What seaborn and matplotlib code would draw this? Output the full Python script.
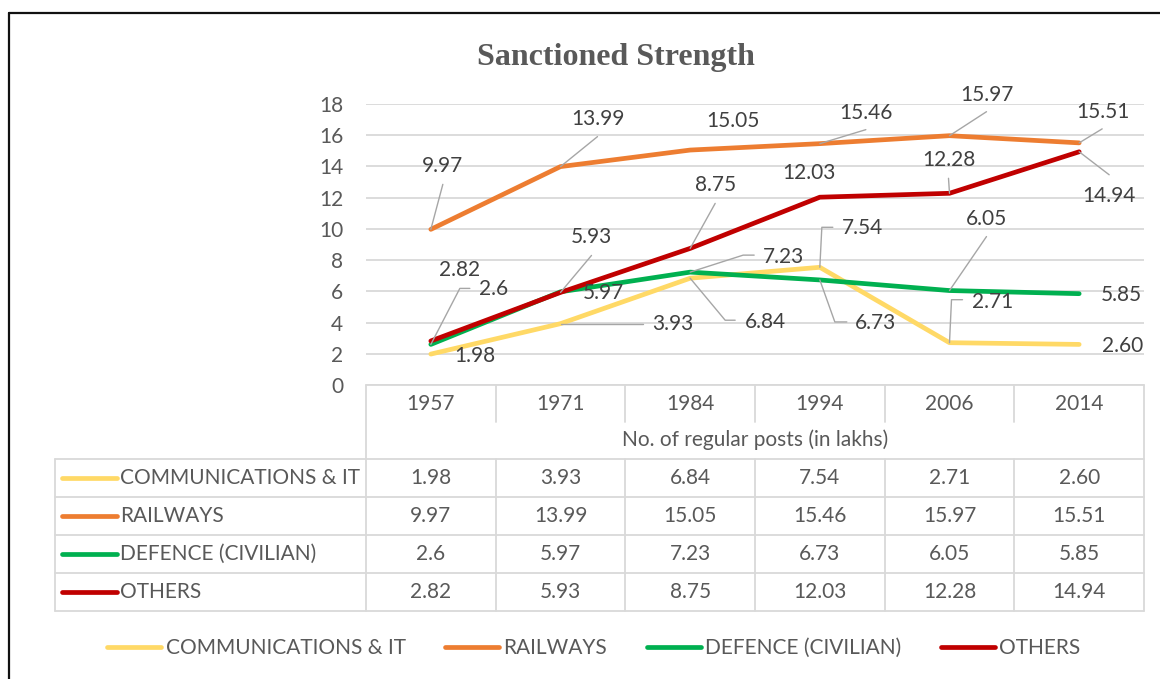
import numpy as np
import pandas as pd
import matplotlib
matplotlib.use("Agg")
import matplotlib.pyplot as plt
import seaborn as sns
from matplotlib.lines import Line2D
from matplotlib.transforms import IdentityTransform

# ---------------- data ----------------
years = ["1957", "1971", "1984", "1994", "2006", "2014"]
series_names = ["COMMUNICATIONS & IT", "RAILWAYS", "DEFENCE (CIVILIAN)", "OTHERS"]
comm = [1.98, 3.93, 6.84, 7.54, 2.71, 2.60]
rail = [9.97, 13.99, 15.05, 15.46, 15.97, 15.51]
defence = [2.6, 5.97, 7.23, 6.73, 6.05, 5.85]
others = [2.82, 5.93, 8.75, 12.03, 12.28, 14.94]
comm_labels = ["1.98", "3.93", "6.84", "7.54", "2.71", "2.60"]
rail_labels = ["9.97", "13.99", "15.05", "15.46", "15.97", "15.51"]
def_labels = ["2.6", "5.97", "7.23", "6.73", "6.05", "5.85"]
oth_labels = ["2.82", "5.93", "8.75", "12.03", "12.28", "14.94"]
yticks = [0, 2, 4, 6, 8, 10, 12, 14, 16, 18]
title = "Sanctioned Strength"
axis_title = "No. of regular posts (in lakhs)"

values = [comm, rail, defence, others]
labels = [comm_labels, rail_labels, def_labels, oth_labels]
colors = ["#FFD966", "#ED7D31", "#00B050", "#C00000"]

# label offsets (pixels, y down) and leader polylines
label_off = [
    [(44, 2), (112, 0), (75, 44), (43, -39), (43, -41), (43, 2)],
    [(12, -63), (37, -48), (43, -29), (46, -31), (37, -41), (24, -31)],
    [(63, -55), (43, 1), (93, -15), (56, 43), (37, -72), (42, 1)],
    [(29, -71), (31, -55), (25, -63), (-11, -24), (-1, -33), (30, 44)],
]
leaders = {
    (0, 1): [(0, 0), (82, 0)],
    (0, 2): [(0, 0), (35, 42), (45, 42)],
    (0, 3): [(0, 0), (2, -40), (13, -40)],
    (0, 4): [(0, 0), (2, -43), (13, -43)],
    (1, 0): [(0, 0), (12, -45)],
    (1, 1): [(0, 0), (37, -30)],
    (1, 3): [(0, 0), (46, -14)],
    (1, 4): [(0, 0), (37, -24)],
    (1, 5): [(0, 0), (23, -14)],
    (2, 0): [(0, 0), (29, -56), (39, -56)],
    (2, 2): [(0, 0), (53, -17), (64, -17)],
    (2, 3): [(0, 0), (15, 42), (27, 42)],
    (2, 4): [(0, 0), (37, -54)],
    (3, 1): [(0, 0), (31, -37)],
    (3, 2): [(0, 0), (25, -45)],
    (3, 4): [(0, 0), (-1, -15)],
    (3, 5): [(0, 0), (30, 23)],
}

W, H = 1160, 679
TXT = "#595959"
LBL = "#404040"
GRID = "#D9D9D9"
FONT = ["Lato", "DejaVu Sans"]
FS = 15

sns.set_theme(style="white")
plt.rcParams["font.family"] = FONT

df = pd.DataFrame(
    [(i, v, s) for s, vals in zip(series_names, values) for i, v in enumerate(vals)],
    columns=["idx", "value", "series"],
)

fig = plt.figure(figsize=(W / 100, H / 100), dpi=100)
fig.patch.set_facecolor("white")


def fx(x):
    return x / W


def fy(y):
    return 1 - y / H


ax = fig.add_axes([fx(366), fy(385), 778 / W, 281 / H])
sns.lineplot(
    data=df, x="idx", y="value", hue="series", hue_order=series_names,
    palette=colors, linewidth=3.4, ax=ax, legend=False, sort=False,
)
for ln in ax.get_lines():
    ln.set_solid_capstyle("round")
    ln.set_solid_joinstyle("round")
ax.set_xlim(-0.5, 5.5)
ax.set_ylim(0, 18)
ax.set_yticks(yticks)
ax.set_yticklabels([str(t) for t in yticks], color=TXT, fontsize=FS)
ax.set_xticks([])
ax.set_xlabel("")
ax.set_ylabel("")
ax.tick_params(axis="y", length=0, pad=16.5)
for s in ax.spines.values():
    s.set_visible(False)
ax.yaxis.grid(True, color=GRID, linewidth=1.3)
ax.set_axisbelow(True)
ax.set_facecolor("white")

# data labels + leaders
for si in range(4):
    for i in range(len(years)):
        v = values[si][i]
        dx, dy = label_off[si][i]
        ax.annotate(labels[si][i], xy=(i, v), xytext=(dx * 0.72, -dy * 0.72),
                    textcoords="offset points", ha="center", va="center",
                    fontsize=FS, color=LBL, annotation_clip=False)
        if (si, i) in leaders:
            px, py = ax.transData.transform((i, v))
            pts = leaders[(si, i)]
            xs = [px + a for a, b in pts]
            ys = [py - b for a, b in pts]
            ax.add_line(Line2D(xs, ys, transform=IdentityTransform(),
                               color="#A6A6A6", linewidth=1.0, zorder=4, clip_on=False))

# ---------------- data table ----------------
def fline(x0, y0, x1, y1, **kw):
    fig.add_artist(Line2D([fx(x0), fx(x1)], [fy(y0), fy(y1)], transform=fig.transFigure,
                          color=GRID, linewidth=1.3, **kw))


def xpix(xd):
    return ax.transData.transform((xd, 0))[0]


bounds = [xpix(k - 0.5) for k in range(len(years) + 1)]
centers = [xpix(k) for k in range(len(years))]
left_edge, right_edge = bounds[0], bounds[-1]
tbl_left = 55
top, hdr_bot, title_bot = 385, 422, 459
row_h = 38
rows_y = [title_bot + row_h * r for r in range(len(series_names) + 1)]

fline(left_edge, top, right_edge, top)
for k, bx in enumerate(bounds):
    if k in (0, len(bounds) - 1):
        fline(bx, top, bx, rows_y[-1])
    else:
        fline(bx, top, bx, hdr_bot)
        fline(bx, title_bot, bx, rows_y[-1])
for yy in rows_y:
    fline(tbl_left, yy, right_edge, yy)
fline(tbl_left, title_bot, tbl_left, rows_y[-1])

for c, yr in zip(centers, years):
    fig.text(fx(c), fy(404), yr, ha="center", va="center", fontsize=FS, color=TXT)
fig.text(fx((left_edge + right_edge) / 2), fy(440), axis_title, ha="center", va="center",
         fontsize=FS, color=TXT)

for r, (name, vals_l, col) in enumerate(zip(series_names, labels, colors)):
    yc = (rows_y[r] + rows_y[r + 1]) / 2
    fig.add_artist(Line2D([fx(62), fx(117)], [fy(yc), fy(yc)], transform=fig.transFigure,
                          color=col, linewidth=3.4, solid_capstyle="round"))
    fig.text(fx(120), fy(yc), name, ha="left", va="center", fontsize=FS, color=TXT)
    for c, t in zip(centers, vals_l):
        fig.text(fx(c), fy(yc), t, ha="center", va="center", fontsize=FS, color=TXT)

# ---------------- legend ----------------
handles = [Line2D([0], [0], color=c, linewidth=3.4, solid_capstyle="round") for c in colors]
leg = fig.legend(handles, series_names, loc="center", bbox_to_anchor=(fx(594), fy(648)),
                 ncol=4, frameon=False, fontsize=FS, handlelength=2.6, handletextpad=0.2,
                 columnspacing=1.9, labelcolor=TXT)

# ---------------- title + frame ----------------
fig.text(fx(616), fy(58), title, ha="center", va="center", fontsize=23,
         fontweight="bold", color=TXT, family=["Liberation Serif", "DejaVu Serif"])
fig.add_artist(Line2D([fx(9), fx(1160)], [fy(13), fy(13)], transform=fig.transFigure,
                      color="#111111", linewidth=1.6))
fig.add_artist(Line2D([fx(9), fx(9)], [fy(13), fy(679)], transform=fig.transFigure,
                      color="#111111", linewidth=1.6))

fig.savefig("out.png", dpi=100, facecolor="white")
